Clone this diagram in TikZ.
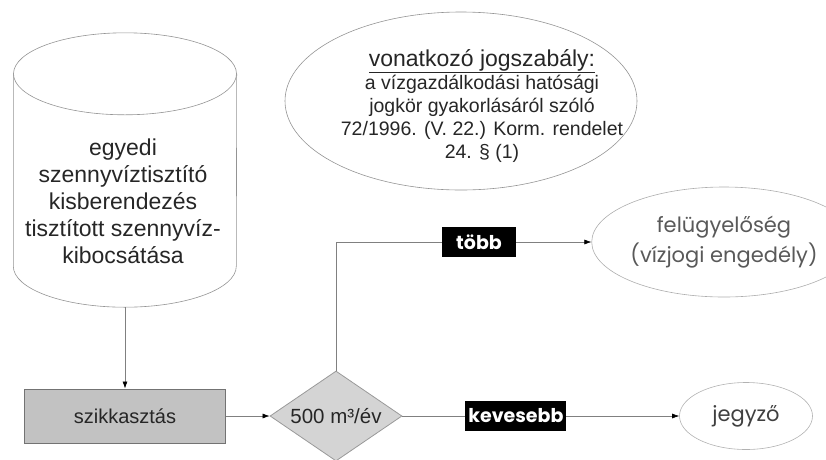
\documentclass[tikz,border=0pt]{standalone}
\usepackage{fontspec}
\setmainfont{Liberation Sans}
\newfontfamily\geo{Poppins}
\usetikzlibrary{shapes.geometric,arrows.meta,calc}
\begin{document}
\begin{tikzpicture}[x=1pt,y=-1pt,
  outline/.style={draw=black!42, line width=0.6pt},
  conn/.style={draw=black!50, line width=0.6pt},
  arr/.style={conn,-{Latex[length=7pt,width=5pt,color=black]}},
  lab/.style={fill=black, text=white, font=\geo\bfseries\fontsize{19}{19}\selectfont, inner sep=0pt, minimum height=30pt},
  txt/.style={text=black!85}]
\useasboundingbox (0,0) rectangle (826,459);
% cylinder
\node[minimum width=223pt, minimum height=274pt, inner sep=0pt] (cyl) at (125,170) {};
\draw[outline] ($(cyl.north)+(0,41)$) ellipse [x radius=111.5, y radius=41];
\draw[outline] ($(cyl.north west)+(0,41)$) -- ($(cyl.south west)+(0,-41)$)
  arc[start angle=180, end angle=0, x radius=111.5, y radius=41]
  -- ($(cyl.north east)+(0,41)$);
\node[txt, align=center, font=\fontsize{23}{27}\selectfont] (cyltxt) at (123,201)
  {egyedi\\szennyvíztisztító\\kisberendezés\\tisztított szennyvíz-\\kibocsátása};
% law ellipse
\node[ellipse, outline, minimum width=352pt, minimum height=178pt, inner sep=0pt] (law) at (461,101) {};
\node[txt, align=center, font=\fontsize{19.5}{23}\selectfont] (lawtxt) at (482,106)
  {{\fontsize{23}{23}\selectfont\underline{vonatkozó jogszabály:}}\\a vízgazdálkodási hatósági\\jogkör gyakorlásáról szóló\\72/1996. (V. 22.) Korm. rendelet\\24. § (1)};
% box
\node[draw=black!55, fill=black!24, line width=1pt, minimum width=201pt, minimum height=54pt,
  font=\fontsize{20}{20}\selectfont, txt] (szik) at (125,416) {szikkasztás};
% diamond
\node[diamond, aspect=1.5, draw=black!40, line width=0.8pt, fill=black!17, minimum width=132pt, minimum height=90pt,
  inner sep=0pt, font=\fontsize{20.5}{20.5}\selectfont, txt] (dia) at (336,416) {500 m³/év};
% targets
\node[ellipse, outline, draw=black!32, minimum width=198pt, minimum height=110pt, inner sep=0pt,
  align=center, font=\geo\fontsize{21}{30}\selectfont, text=black!65] (fel) at (724,242)
  {felügyelőség\\(vízjogi engedély)};
\node[ellipse, outline, draw=black!30, minimum width=133pt, minimum height=67pt, inner sep=0pt,
  font=\geo\fontsize{21}{21}\selectfont, text=black!75] (jeg) at (746,416) {jegyző};
% connectors
\draw[arr] (cyl.south) -- (szik.north);
\draw[arr] (szik.east) -- (dia.west);
\draw[arr] (dia.north) |- node[lab, pos=0.78, minimum width=74pt] (tobb) {több} (fel.west);
\draw[arr] (dia.east) -- node[lab, pos=0.41, minimum width=101pt] (kev) {kevesebb} (jeg.west);
\end{tikzpicture}
\end{document}
